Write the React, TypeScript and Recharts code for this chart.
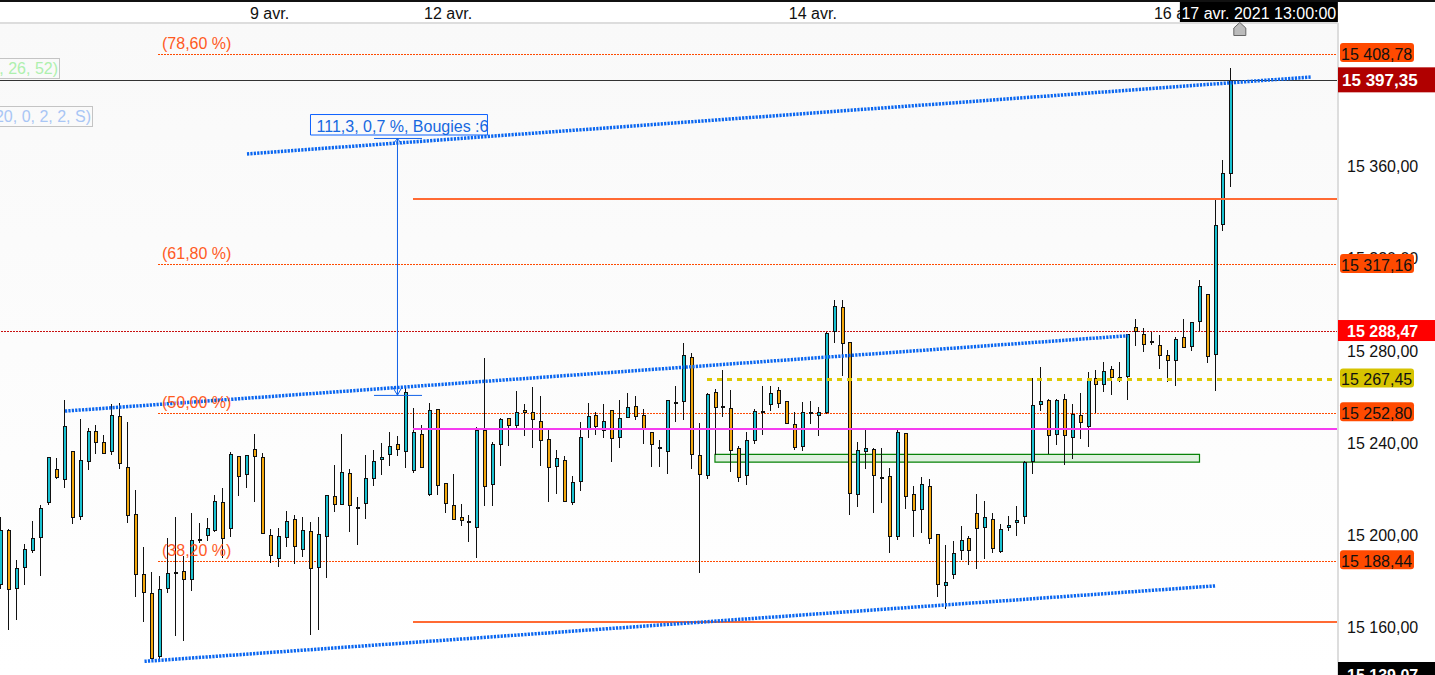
import { Bar, CartesianGrid, ComposedChart, ReferenceArea, ReferenceDot, ReferenceLine, XAxis, YAxis } from 'recharts';

const opens = [
  15178.5, 15201.9, 15176.8, 15185.9, 15193.1, 15198.9, 15213.9, 15228.4, 15224.1, 15236.2, 15208.0, 15231.9, 15245.2,
  15240.1, 15236.2, 15251.4, 15229.3, 15208.9, 15182.8, 15174.6, 15147.3, 15176.8, 15183.6, 15184.1, 15180.7, 15198.2,
  15199.8, 15201.9, 15214.1, 15202.8, 15234.0, 15226.2, 15237.1, 15233.6, 15199.8, 15189.8, 15198.9, 15206.7, 15193.7,
  15201.5, 15185.9, 15199.3, 15216.7, 15213.2, 15226.6, 15212.2, 15213.6, 15224.5, 15233.2, 15234.9, 15239.2, 15236.6,
  15228.0, 15243.6, 15217.5, 15254.4, 15222.3, 15212.8, 15207.6, 15206.0, 15203.2, 15245.3, 15221.9, 15239.2, 15250.5,
  15247.9, 15254.0, 15253.5, 15249.2, 15241.4, 15229.7, 15232.3, 15214.1, 15223.2, 15245.9, 15251.8, 15245.7, 15254.0,
  15242.3, 15250.9, 15255.7, 15251.8, 15244.4, 15238.1, 15236.2, 15257.6, 15257.9, 15277.0, 15234.5, 15225.8, 15261.8,
  15255.7, 15254.9, 15237.5, 15225.8, 15241.0, 15253.8, 15256.6, 15262.7, 15257.9, 15247.9, 15238.4, 15253.4, 15251.8,
  15253.6, 15288.7, 15298.7, 15283.9, 15217.5, 15236.2, 15237.1, 15225.1, 15225.4, 15199.3, 15244.0, 15217.5, 15211.0,
  15221.0, 15200.2, 15178.1, 15182.8, 15193.3, 15198.5, 15209.3, 15203.2, 15206.7, 15192.8, 15203.1, 15205.3, 15208.0,
  15231.7, 15256.6, 15258.3, 15243.6, 15258.8, 15242.3, 15251.8, 15247.5, 15267.9, 15265.7, 15271.8, 15268.5, 15268.7,
  15290.0, 15287.0, 15284.1, 15282.6, 15277.9, 15276.1, 15285.7, 15282.2, 15293.0, 15304.7, 15278.7, 15335.1, 15356.8,
];
const closes = [
  15201.9, 15176.3, 15185.4, 15193.7, 15198.5, 15211.5, 15233.6, 15224.9, 15247.0, 15207.6, 15232.3, 15244.9, 15240.5,
  15235.3, 15251.8, 15231.0, 15208.4, 15182.8, 15175.0, 15146.4, 15176.3, 15183.3, 15183.5, 15180.7, 15197.6, 15198.1,
  15202.8, 15214.5, 15198.5, 15234.9, 15225.3, 15234.5, 15234.0, 15200.6, 15191.1, 15199.3, 15205.8, 15195.0, 15201.9,
  15185.4, 15200.2, 15217.1, 15213.2, 15227.1, 15212.8, 15212.1, 15224.5, 15231.9, 15233.9, 15238.4, 15237.1, 15262.2,
  15244.4, 15229.3, 15254.0, 15221.4, 15213.6, 15206.7, 15206.3, 15205.9, 15245.3, 15221.0, 15239.2, 15250.1, 15247.5,
  15253.5, 15253.0, 15250.5, 15241.0, 15229.3, 15233.2, 15214.5, 15222.7, 15242.3, 15251.4, 15247.0, 15249.6, 15241.8,
  15250.5, 15255.3, 15251.4, 15245.7, 15239.2, 15238.0, 15258.3, 15257.5, 15277.9, 15234.9, 15226.2, 15260.9, 15255.3,
  15255.6, 15236.6, 15224.9, 15241.0, 15253.6, 15253.7, 15261.4, 15257.0, 15248.4, 15237.9, 15253.1, 15253.3, 15253.1,
  15287.8, 15299.5, 15283.1, 15218.4, 15236.6, 15237.5, 15225.8, 15225.0, 15199.3, 15244.4, 15216.7, 15210.6, 15221.9,
  15198.5, 15178.5, 15179.4, 15192.0, 15197.6, 15193.3, 15202.8, 15207.6, 15194.1, 15202.4, 15204.1, 15206.3, 15231.6,
  15256.2, 15257.9, 15243.1, 15258.3, 15243.1, 15252.5, 15248.8, 15267.4, 15265.3, 15271.3, 15268.3, 15268.4, 15287.0,
  15288.3, 15282.6, 15284.0, 15278.3, 15275.7, 15285.2, 15281.3, 15292.6, 15308.2, 15277.9, 15334.7, 15357.2, 15397.35,
];
const highs = [
  15207.9, 15202.5, 15189.1, 15196.0, 15206.0, 15212.8, 15233.6, 15233.2, 15258.5, 15236.2, 15250.1, 15246.2, 15247.5,
  15243.1, 15256.7, 15257.2, 15248.9, 15219.4, 15194.7, 15183.8, 15182.1, 15198.6, 15207.7, 15190.8, 15209.4, 15205.0,
  15207.3, 15217.3, 15220.3, 15235.9, 15234.0, 15234.5, 15243.7, 15235.3, 15202.5, 15202.9, 15210.3, 15208.6, 15207.7,
  15205.5, 15207.7, 15217.3, 15230.3, 15243.7, 15228.5, 15216.2, 15234.6, 15236.8, 15239.8, 15244.6, 15242.8, 15264.2,
  15255.0, 15247.6, 15257.2, 15254.4, 15222.3, 15226.4, 15213.3, 15208.6, 15246.8, 15276.7, 15240.2, 15250.7, 15250.9,
  15262.4, 15256.7, 15264.1, 15260.2, 15245.7, 15236.8, 15234.2, 15225.5, 15248.9, 15257.2, 15253.1, 15256.7, 15254.0,
  15258.5, 15261.5, 15260.2, 15254.6, 15244.4, 15241.1, 15258.3, 15264.5, 15283.2, 15278.9, 15248.5, 15261.4, 15263.2,
  15271.5, 15262.8, 15238.5, 15244.6, 15254.6, 15264.5, 15264.5, 15264.1, 15257.9, 15253.3, 15257.6, 15258.0, 15255.4,
  15288.0, 15301.9, 15301.9, 15283.9, 15240.3, 15246.3, 15237.6, 15237.6, 15229.0, 15245.7, 15244.0, 15221.2, 15225.1,
  15224.2, 15200.2, 15195.6, 15197.3, 15203.8, 15199.5, 15217.7, 15214.7, 15209.4, 15204.7, 15208.1, 15212.5, 15232.0,
  15268.0, 15272.8, 15258.8, 15258.8, 15261.1, 15256.7, 15261.5, 15270.6, 15271.5, 15275.0, 15273.2, 15275.0, 15287.0,
  15293.6, 15289.7, 15288.0, 15286.7, 15280.2, 15285.7, 15293.6, 15292.6, 15310.5, 15304.7, 15346.1, 15362.6, 15402.5,
];
const lows = [
  15176.5, 15158.7, 15163.0, 15178.2, 15192.2, 15182.1, 15213.1, 15224.2, 15220.4, 15204.7, 15206.4, 15228.1, 15235.0,
  15235.0, 15234.6, 15228.5, 15205.1, 15173.0, 15162.2, 15146.0, 15146.2, 15174.6, 15156.1, 15153.9, 15175.6, 15196.3,
  15197.3, 15201.2, 15189.9, 15199.0, 15216.8, 15220.3, 15214.2, 15200.6, 15187.8, 15186.0, 15194.7, 15187.3, 15190.4,
  15156.5, 15158.7, 15181.2, 15209.9, 15213.2, 15201.2, 15195.6, 15206.8, 15221.2, 15225.9, 15229.8, 15234.2, 15229.0,
  15226.8, 15229.3, 15216.8, 15217.3, 15209.4, 15206.7, 15203.8, 15196.9, 15189.9, 15212.5, 15212.5, 15229.8, 15238.5,
  15245.5, 15242.8, 15237.6, 15229.8, 15214.2, 15217.7, 15214.2, 15212.9, 15219.0, 15242.0, 15243.3, 15242.0, 15231.6,
  15237.6, 15250.7, 15249.8, 15239.4, 15229.4, 15229.4, 15226.4, 15248.9, 15249.8, 15228.5, 15183.4, 15224.2, 15234.6,
  15251.1, 15227.2, 15222.9, 15221.6, 15239.4, 15243.3, 15253.7, 15255.0, 15248.4, 15236.8, 15236.3, 15248.1, 15242.9,
  15252.4, 15283.2, 15268.9, 15208.6, 15212.1, 15228.5, 15209.4, 15213.8, 15192.1, 15197.7, 15211.2, 15199.0, 15200.8,
  15196.0, 15173.0, 15167.8, 15180.8, 15189.1, 15186.9, 15185.2, 15189.5, 15192.1, 15192.1, 15201.6, 15199.5, 15204.7,
  15226.4, 15253.7, 15235.0, 15239.0, 15230.3, 15232.9, 15241.6, 15238.1, 15252.7, 15261.9, 15260.6, 15266.3, 15258.5,
  15281.9, 15279.3, 15282.3, 15271.9, 15266.3, 15264.5, 15281.3, 15279.7, 15288.4, 15274.5, 15262.4, 15331.8, 15350.9,
];

const dateTicks = [33.75, 56.25, 102.2, 148.2, 158.4];
const dateLabels = ['9 avr.', '12 avr.', '14 avr.', '16 avr.', '17 avr. 2021 13:00:00'];
const priceTicks = [15160, 15200, 15240, 15280, 15320, 15360];
const fibPrices = [15408.78, 15317.16, 15252.8, 15188.44];
const fibLabels = ['(78,60 %)', '(61,80 %)', '(50,00 %)', '(38,20 %)'];
const LAST_PRICE = 15397.35;
const PIVOT_PRICE = 15288.47;
const YELLOW_PRICE = 15267.45;
const LOW_PRICE = 15139.07;
const MAGENTA_PRICE = 15245.9;
const orangeLevels = [15345.7, 15161.9];
// x1, price1, x2, price2
const trendLines = [
  [30.91, 15365.4, 164.96, 15398.8],
  [7.98, 15253.7, 141.9, 15286.4],
  [18.0, 15145.0, 153.0, 15177.8],
];
const rulerLines = [
  [49.87, 15372.1, 49.87, 15260.6],
  [46.91, 15372.1, 52.96, 15372.1],
  [46.91, 15260.5, 52.96, 15260.5],
  [49.27, 15264.1, 49.87, 15260.6],
  [50.44, 15264.1, 49.87, 15260.6],
  [49.27, 15369.5, 49.87, 15372.1],
  [50.44, 15369.5, 49.87, 15372.1],
];

const X_MIN = -0.21;
const X_MAX = 168.37;
const Y_MIN = LOW_PRICE;
const Y_MAX = 15422.25;
const FONT = '"Liberation Sans", Arial, sans-serif';

const candles = opens.map((open, i) => ({ i, open, close: closes[i], high: highs[i], low: lows[i], range: [lows[i], highs[i]] }));

const fmt = (v: number) => {
  const [a, b] = v.toFixed(2).split('.');
  return `${a.slice(0, 2)} ${a.slice(2)},${b}`;
};

const TAGS: Record<number, { fill: string; color: string; bold?: boolean; up?: number; h?: number; size?: number; tx?: number }> = {
  15408.78: { fill: '#ff4a00', color: '#111' },
  15317.16: { fill: '#ff4a00', color: '#111' },
  15252.8: { fill: '#ff4a00', color: '#111' },
  15188.44: { fill: '#ff4a00', color: '#111' },
  15267.45: { fill: '#d6c300', color: '#111' },
  15397.35: { fill: '#b00000', color: '#fff', bold: true, up: 13, h: 25, size: 17, tx: 1342 },
  15288.47: { fill: '#ff0000', color: '#fff', bold: true, up: 11, h: 21 },
  15139.07: { fill: '#000', color: '#fff', bold: true, up: 13, h: 25 },
};
const tagPrices = Object.keys(TAGS).map(Number);

function Candle(props: any) {
  const { x, y, width, height, payload } = props;
  const k = Math.abs(height) / (payload.high - payload.low);
  const cx = Math.round(x + width / 2) - 1;
  const top = y + (payload.high - Math.max(payload.open, payload.close)) * k;
  const bottom = y + (payload.high - Math.min(payload.open, payload.close)) * k;
  const up = payload.close >= payload.open;
  return (
    <g shapeRendering='crispEdges'>
      <rect x={cx} y={y} width={1} height={Math.abs(height)} fill='#111' />
      <rect
        x={cx - 0.5}
        y={Math.round(top) + 0.5}
        width={3}
        height={Math.max(Math.round(bottom - top), 1)}
        fill={up ? '#19c1d1' : '#f2a70d'}
        stroke='#111'
        strokeWidth={1}
      />
    </g>
  );
}

function DateTick({ x, payload }: any) {
  const idx = dateTicks.indexOf(payload.value);
  if (idx === dateTicks.length - 1) {
    return (
      <g>
        <rect x={x - 79} y={2} width={158} height={20} fill='#000' />
        <text x={x} y={18.5} textAnchor='middle' fontSize={16} fontFamily={FONT} fill='#fff'>
          {dateLabels[idx]}
        </text>
      </g>
    );
  }
  return (
    <text x={x} y={19} textAnchor='middle' fontSize={16} fontFamily={FONT} fill='#111'>
      {dateLabels[idx]}
    </text>
  );
}

function PriceTick({ y, payload }: any) {
  const tag = TAGS[payload.value];
  if (!tag) {
    return (
      <text x={1347} y={y + 6} fontSize={16} fontFamily={FONT} fill='#111'>
        {fmt(payload.value)}
      </text>
    );
  }
  return (
    <g>
      {tag.bold ? (
        <rect x={1338} y={y - (tag.up ?? 11)} width={97} height={tag.h ?? 21} fill={tag.fill} />
      ) : (
        <rect x={1340} y={y - 11} width={74} height={19} rx={3} fill={tag.fill} />
      )}
      <text
        x={tag.tx ?? (tag.bold ? 1347 : 1341)}
        y={y + 6}
        fontSize={tag.size ?? 16}
        fontWeight={tag.bold ? 700 : 400}
        fontFamily={FONT}
        fill={tag.color}
      >
        {fmt(payload.value)}
      </text>
    </g>
  );
}

function LastMarker({ cx }: any) {
  return <path d={`M${cx - 6} 35.5 V28 L${cx} 22.5 L${cx + 6} 28 V35.5 Z`} fill='#bbb' stroke='#666' strokeWidth={1} />;
}

const legendBox = {
  position: 'absolute',
  boxSizing: 'border-box',
  height: 21,
  border: '1px solid #c4c4c4',
  font: `16px ${FONT}`,
  lineHeight: '19px',
  textAlign: 'right',
  paddingRight: 1,
  whiteSpace: 'nowrap',
} as const;

export default function App() {
  return (
    <div style={{ position: 'absolute', left: 0, top: 0, width: 1435, height: 675, overflow: 'hidden', background: '#fff' }}>
      <ComposedChart width={1435} height={675} data={candles} margin={{ top: 0, right: 0, bottom: 0, left: 0 }}>
        <defs>
          <linearGradient id='plotBg' x1='0' y1='0' x2='0' y2='1'>
            <stop offset='0%' stopColor='#f9f9f9' />
            <stop offset='100%' stopColor='#ffffff' />
          </linearGradient>
        </defs>
        <CartesianGrid horizontal={false} vertical={false} fill='url(#plotBg)' />
        <XAxis
          dataKey='i'
          type='number'
          orientation='top'
          height={23}
          domain={[X_MIN, X_MAX]}
          allowDataOverflow
          ticks={dateTicks}
          interval={0}
          tick={DateTick}
          tickLine={false}
          axisLine={{ stroke: '#ddd', strokeWidth: 2 }}
        />
        <YAxis
          orientation='right'
          width={97}
          domain={[Y_MIN, Y_MAX]}
          allowDataOverflow
          ticks={[...priceTicks, ...tagPrices]}
          interval={0}
          tick={PriceTick}
          tickLine={false}
          axisLine={{ stroke: '#ddd', strokeWidth: 2 }}
        />
        <Bar dataKey='range' barSize={5} shape={Candle} isAnimationActive={false} />

        <ReferenceLine y={LAST_PRICE} stroke='#333' strokeWidth={1} shapeRendering='crispEdges' />
        <ReferenceLine y={PIVOT_PRICE} stroke='#c81010' strokeWidth={1} strokeDasharray='2 1' shapeRendering='crispEdges' zIndex={100} />
        {fibPrices.map((p, i) => (
          <ReferenceLine
            key={p}
            segment={[{ x: 19.7, y: p }, { x: X_MAX, y: p }]}
            stroke='#ff4a00'
            strokeWidth={1}
            strokeDasharray='2 1'
            shapeRendering='crispEdges'
            zIndex={100}
            label={{ value: fibLabels[i], position: 'insideBottomLeft', offset: 4, fill: '#ff5a1f', fontSize: 16, fontFamily: FONT, dy: -1.5 }}
          />
        ))}
        {orangeLevels.map(p => (
          <ReferenceLine key={p} segment={[{ x: 51.83, y: p }, { x: X_MAX, y: p }]} stroke='#ff6a33' strokeWidth={2} shapeRendering='crispEdges' />
        ))}
        <ReferenceLine
          segment={[{ x: 51.83, y: MAGENTA_PRICE }, { x: X_MAX, y: MAGENTA_PRICE }]}
          stroke='#f53cf0'
          strokeWidth={2}
          shapeRendering='crispEdges'
        />
        <ReferenceLine
          segment={[{ x: 88.87, y: YELLOW_PRICE }, { x: X_MAX, y: YELLOW_PRICE }]}
          stroke='#dcc800'
          strokeWidth={3}
          strokeDasharray='5 5'
          shapeRendering='crispEdges'
        />
        <ReferenceArea x1={89.87} x2={150.92} y1={15231.5} y2={15234.9} fill='#dcefdc' fillOpacity={0.9} stroke='#078207' strokeWidth={1.2} />
        {trendLines.map(([x1, y1, x2, y2]) => (
          <ReferenceLine
            key={x1}
            segment={[{ x: x1, y: y1 }, { x: x2, y: y2 }]}
            stroke='#0a66f0'
            strokeWidth={3.5}
            strokeDasharray='2.2 1.2'
          />
        ))}
        {rulerLines.map(([x1, y1, x2, y2], i) => (
          <ReferenceLine key={i} segment={[{ x: x1, y: y1 }, { x: x2, y: y2 }]} stroke='#1262e8' strokeWidth={1} />
        ))}
        <ReferenceArea
          x1={38.91}
          x2={61.21}
          y1={15373.6}
          y2={15382.5}
          fill='#fafafa'
          fillOpacity={1}
          stroke='#0f62fe'
          strokeWidth={1}
          label={{ value: '111,3, 0,7 %, Bougies :6', position: 'insideLeft', offset: 6, fill: '#1668e0', fontSize: 16, fontFamily: FONT, dy: 2 }}
        />
        <ReferenceDot x={156} y={15418} r={1} shape={LastMarker} ifOverflow='visible' />
      </ComposedChart>
      <div style={{ position: 'absolute', left: 0, top: 0, width: 1435, height: 2, background: '#111' }} />
      <div style={{ ...legendBox, left: -20, top: 58, width: 80, color: '#aef0ae' }}>, 26, 52)</div>
      <div style={{ ...legendBox, left: -20, top: 106, width: 113, color: '#a9c6f5' }}>20, 0, 2, 2, S)</div>
    </div>
  );
}
